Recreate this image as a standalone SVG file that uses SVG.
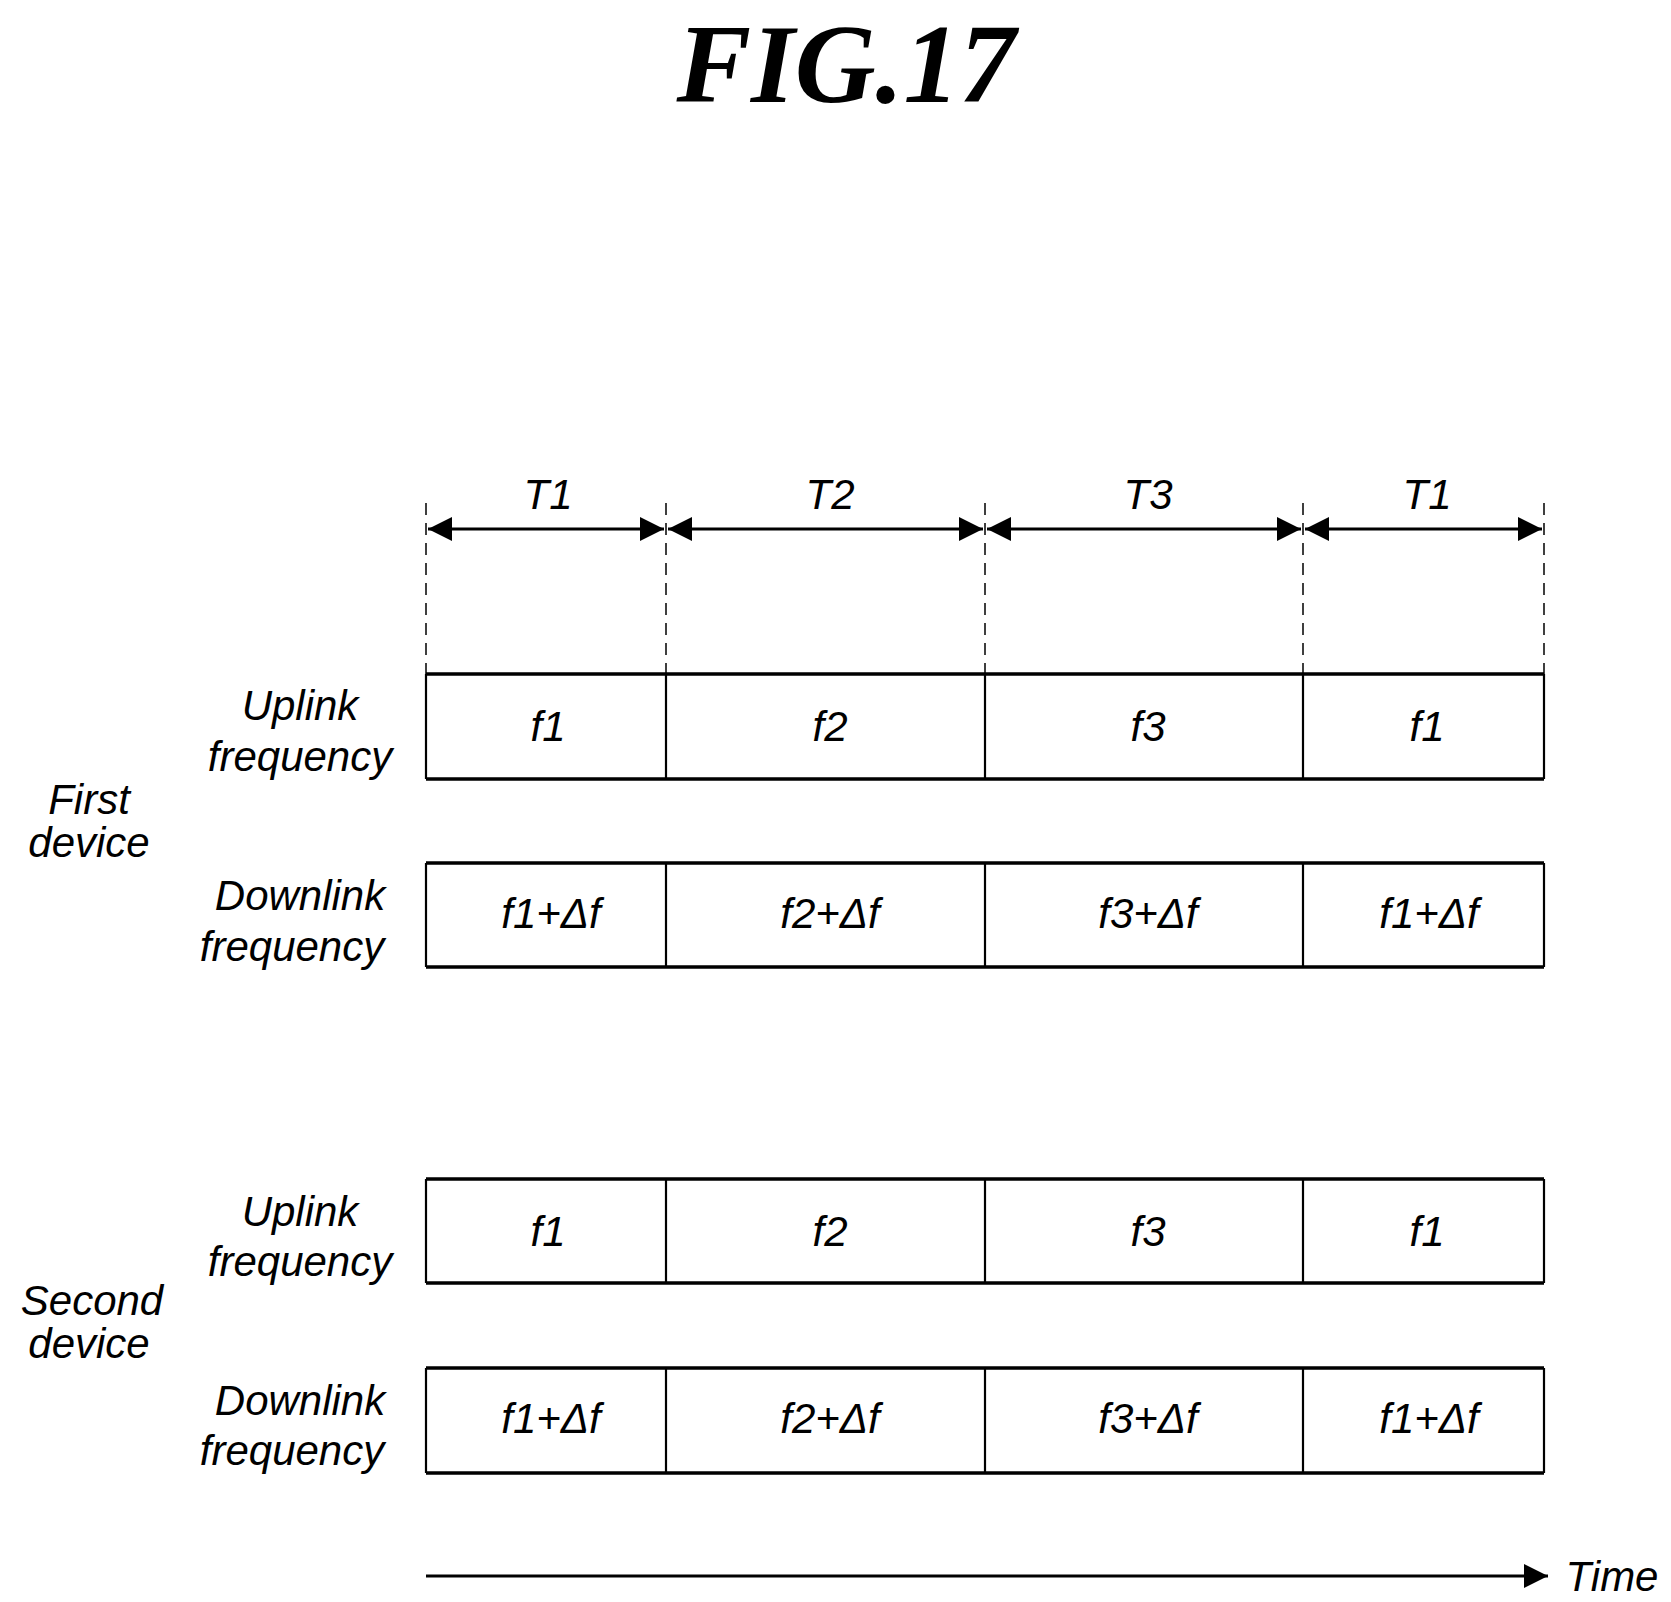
<svg xmlns="http://www.w3.org/2000/svg" width="1671" height="1602" viewBox="0 0 1671 1602">
<style>
text{font-family:"Liberation Sans",Arial,sans-serif;font-style:italic;font-size:42px;fill:#000;text-anchor:middle}
.title{font-family:"Liberation Serif","Times New Roman",serif;font-weight:bold;font-size:112px}
.hb{stroke:#000;stroke-width:3.5;fill:none}
.vb{stroke:#000;stroke-width:2.2;fill:none}
.dash{stroke:#000;stroke-width:1.5;stroke-dasharray:12,8;fill:none}
.arr{stroke:#000;stroke-width:3;fill:none}
</style>
<defs>
<marker id="ah" viewBox="0 0 10 10" refX="10" refY="5" markerWidth="9" markerHeight="9" markerUnits="userSpaceOnUse" orient="auto-start-reverse"><path d="M0,0 L10,5 L0,10 z" fill="#000"/></marker>
<marker id="ah2" viewBox="0 0 10 10" refX="10" refY="5" markerWidth="28" markerHeight="24" markerUnits="userSpaceOnUse" orient="auto-start-reverse"><path d="M0,0 L10,5 L0,10 z" fill="#000"/></marker>
</defs>
<text class="title" x="846" y="102">FIG.17</text>
<g id="timing">
<text x="548" y="509">T1</text><text x="830" y="509">T2</text><text x="1148" y="509">T3</text><text x="1427" y="509">T1</text>
<path class="dash" d="M426,503V674M666,503V674M985,503V674M1303,503V674M1544,503V674"/>
</g>
<g id="connectors">
<line class="arr" x1="428" y1="529" x2="664" y2="529" marker-start="url(#ah2)" marker-end="url(#ah2)"/>
<line class="arr" x1="668" y1="529" x2="983" y2="529" marker-start="url(#ah2)" marker-end="url(#ah2)"/>
<line class="arr" x1="987" y1="529" x2="1301" y2="529" marker-start="url(#ah2)" marker-end="url(#ah2)"/>
<line class="arr" x1="1305" y1="529" x2="1542" y2="529" marker-start="url(#ah2)" marker-end="url(#ah2)"/>
<line class="arr" x1="426" y1="1576" x2="1548" y2="1576" marker-end="url(#ah2)"/>
</g>
<g id="first-uplink">
<path class="hb" d="M426,674H1544M426,779H1544"/>
<path class="vb" d="M426,674V779M666,674V779M985,674V779M1303,674V779M1544,674V779"/>
<text x="548" y="741">f1</text><text x="830" y="741">f2</text><text x="1148" y="741">f3</text><text x="1427" y="741">f1</text>
</g>
<g id="first-downlink">
<path class="hb" d="M426,863H1544M426,967H1544"/>
<path class="vb" d="M426,863V967M666,863V967M985,863V967M1303,863V967M1544,863V967"/>
<text x="551" y="928">f1+Δf</text><text x="830" y="928">f2+Δf</text><text x="1148" y="928">f3+Δf</text><text x="1429" y="928">f1+Δf</text>
</g>
<g id="second-uplink">
<path class="hb" d="M426,1179H1544M426,1283H1544"/>
<path class="vb" d="M426,1179V1283M666,1179V1283M985,1179V1283M1303,1179V1283M1544,1179V1283"/>
<text x="548" y="1246">f1</text><text x="830" y="1246">f2</text><text x="1148" y="1246">f3</text><text x="1427" y="1246">f1</text>
</g>
<g id="second-downlink">
<path class="hb" d="M426,1368H1544M426,1473H1544"/>
<path class="vb" d="M426,1368V1473M666,1368V1473M985,1368V1473M1303,1368V1473M1544,1368V1473"/>
<text x="551" y="1433">f1+Δf</text><text x="830" y="1433">f2+Δf</text><text x="1148" y="1433">f3+Δf</text><text x="1429" y="1433">f1+Δf</text>
</g>
<g id="labels">
<text x="300" y="720">Uplink</text><text x="300" y="771">frequency</text>
<text x="300" y="910">Downlink</text><text x="292" y="961">frequency</text>
<text x="300" y="1226">Uplink</text><text x="300" y="1276">frequency</text>
<text x="300" y="1415">Downlink</text><text x="292" y="1465">frequency</text>
<text x="89" y="814">First</text><text x="89" y="857">device</text>
<text x="92" y="1315">Second</text><text x="89" y="1358">device</text>
<text x="1612" y="1591">Time</text>
</g>
</svg>
